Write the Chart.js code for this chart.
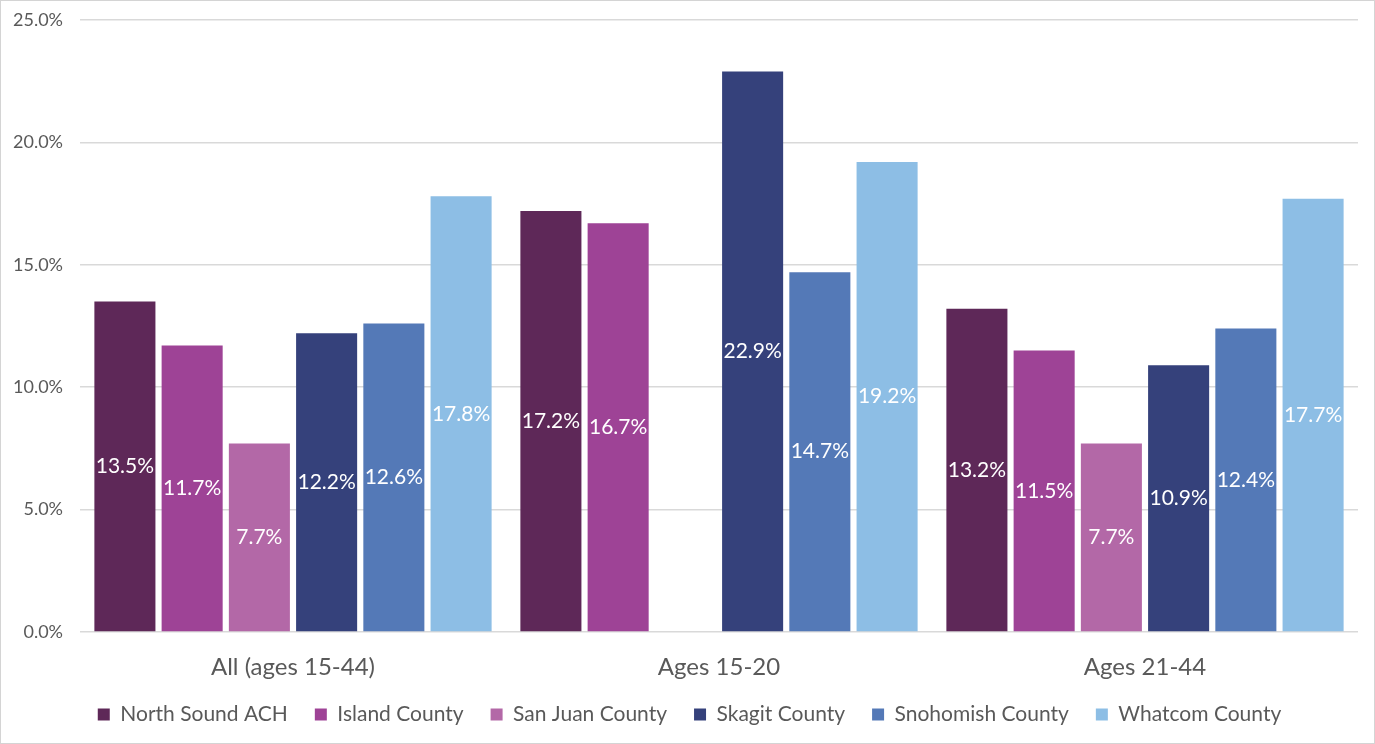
<!DOCTYPE html>
<html>
<head>
<meta charset="utf-8">
<script src="https://cdn.jsdelivr.net/npm/chart.js@4/dist/chart.umd.min.js"></script>
<style>
  html, body { margin: 0; padding: 0; background: #fff; }
  #wrap { position: absolute; left: 0; top: 0; width: 1373px; height: 742px; border: 1px solid #d4d4d4; }
  canvas { display: block; }
</style>
</head>
<body>
<div id="wrap"><canvas id="c" width="1373" height="742"></canvas></div>
<script>
const categories = ['All (ages 15-44)', 'Ages 15-20', 'Ages 21-44'];
const seriesNames = ['North Sound ACH', 'Island County', 'San Juan County', 'Skagit County', 'Snohomish County', 'Whatcom County'];
const northSound = [13.5, 17.2, 13.2];
const island = [11.7, 16.7, 11.5];
const sanJuan = [7.7, null, 7.7];
const skagit = [12.2, 22.9, 10.9];
const snohomish = [12.6, 14.7, 12.4];
const whatcom = [17.8, 19.2, 17.7];
const yTicks = [0, 5, 10, 15, 20, 25];

const seriesValues = [northSound, island, sanJuan, skagit, snohomish, whatcom];
const seriesColors = ['#5E2858', '#9E4396', '#B368A7', '#35417B', '#5479B7', '#8DBEE5'];

const FONT = 'Lato, "Open Sans", sans-serif';
const TEXT = '#595959';

// Writes each bar's value in white at the middle of the bar
const centerLabels = {
  id: 'centerLabels',
  afterDatasetsDraw(chart) {
    const ctx = chart.ctx;
    ctx.save();
    ctx.font = '21px ' + FONT;
    ctx.fillStyle = '#ffffff';
    ctx.textAlign = 'center';
    ctx.textBaseline = 'middle';
    chart.data.datasets.forEach((ds, i) => {
      const meta = chart.getDatasetMeta(i);
      meta.data.forEach((el, j) => {
        const v = ds.data[j];
        if (v === null || v === undefined) return;
        ctx.fillText(v.toFixed(1) + '%', el.x, (el.y + el.base) / 2);
      });
    });
    ctx.restore();
  }
};

// Nudges the legend row slightly right, and lets the category labels'
// descenders run past the bottom of the x-axis box instead of being clipped
const layoutTweaks = {
  id: 'layoutTweaks',
  afterLayout(chart) {
    const lg = chart.legend;
    if (lg) {
      lg.left += 10;
      lg.right += 10;
    }
    const x = chart.scales.x;
    if (x) x.bottom += 12;
  }
};

new Chart(document.getElementById('c'), {
  type: 'bar',
  data: {
    labels: categories,
    datasets: seriesNames.map((name, i) => ({
      label: name,
      data: seriesValues[i],
      backgroundColor: seriesColors[i],
      borderWidth: 0,
      barPercentage: 0.908,
      categoryPercentage: 0.947
    }))
  },
  options: {
    responsive: false,
    animation: false,
    layout: { padding: { left: 0, right: 16, top: 19, bottom: 8 } },
    plugins: {
      legend: {
        position: 'bottom',
        labels: {
          boxWidth: 12,
          boxHeight: 12,
          padding: 27,
          color: TEXT,
          font: { family: FONT, size: 21 }
        }
      },
      tooltip: { enabled: false }
    },
    scales: {
      x: {
        afterFit(scale) { scale.height = 45; },
        grid: { display: false },
        border: { display: false },
        ticks: { color: TEXT, font: { family: FONT, size: 24 }, padding: 13 }
      },
      y: {
        min: 0,
        max: 25,
        afterBuildTicks(scale) { scale.ticks = yTicks.map(v => ({ value: v })); },
        afterFit(scale) { scale.width = 79; },
        grid: { color: '#d9d9d9', lineWidth: 1.5, drawTicks: true, tickLength: 17, tickColor: 'rgba(0,0,0,0)' },
        border: { display: false },
        ticks: {
          color: TEXT,
          font: { family: FONT, size: 18 },
          padding: 0,
          callback: v => v.toFixed(1) + '%'
        }
      }
    }
  },
  plugins: [centerLabels, layoutTweaks]
});
</script>
</body>
</html>
